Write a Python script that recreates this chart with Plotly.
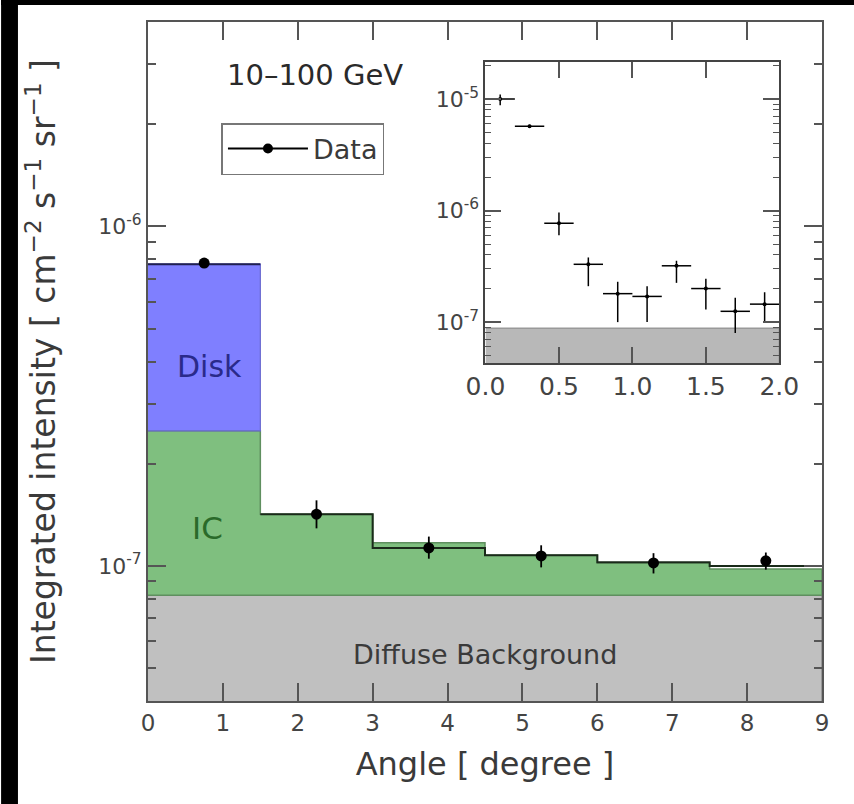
import numpy as np
import plotly.graph_objects as go

# ---------------- data ----------------
bin_edges = [0, 1.5, 3, 4.5, 6, 7.5, 9]
background = 8.2e-8
ic_top = [2.5e-7, 1.42e-7, 1.17e-7, 1.075e-7, 1.02e-7, 0.98e-7]
total_model = [7.74e-7, 1.42e-7, 1.13e-7, 1.075e-7, 1.025e-7, 1.0e-7]

data_x = [0.75, 2.25, 3.75, 5.25, 6.75, 8.25]
data_y = [7.8e-7, 1.42e-7, 1.13e-7, 1.07e-7, 1.02e-7, 1.035e-7]
data_up = [0.25e-7, 0.14e-7, 0.09e-7, 0.08e-7, 0.07e-7, 0.06e-7]
data_dn = [0.25e-7, 0.13e-7, 0.08e-7, 0.08e-7, 0.07e-7, 0.06e-7]

inset_x = [0.1, 0.3, 0.5, 0.7, 0.9, 1.1, 1.3, 1.5, 1.7, 1.9]
inset_xerr = [0.1] * 10
inset_y = [1.0e-5, 5.7e-6, 7.7e-7, 3.3e-7, 1.8e-7, 1.7e-7, 3.2e-7, 2.0e-7, 1.25e-7, 1.45e-7]
inset_up = [1.0e-6, 2e-7, 1.9e-7, 0.5e-7, 0.5e-7, 0.4e-7, 0.35e-7, 0.45e-7, 0.4e-7, 0.4e-7]
inset_dn = [1.2e-6, 2e-7, 1.7e-7, 1.2e-7, 0.8e-7, 0.7e-7, 0.95e-7, 0.7e-7, 0.45e-7, 0.45e-7]
inset_background = 8.8e-8

main_xticks = list(range(0, 10))
main_yrange = [4e-8, 4e-6]
inset_yrange = [4.3e-8, 2.15e-5]
inset_xticks = [0.0, 0.5, 1.0, 1.5, 2.0]
inset_xticklabels = ["0.0", "0.5", "1.0", "1.5", "2.0"]

# ---------------- helpers ----------------
def step(edges, vals):
    xs, ys = [], []
    for i, v in enumerate(vals):
        xs += [edges[i], edges[i + 1]]
        ys += [v, v]
    return xs, ys

FONT = "DejaVu Sans"
TXT = "#3a3a3a"
AX = "#555555"

fig = go.Figure()

ylow = main_yrange[0] / 10
# background fill
fig.add_trace(go.Scatter(
    x=[bin_edges[0], bin_edges[-1], bin_edges[-1], bin_edges[0]],
    y=[background, background, ylow, ylow],
    fill="toself", fillcolor="#c0c0c0", mode="lines",
    line=dict(color="#8a8a8a", width=1.5), showlegend=False, hoverinfo="skip"))

# IC fill
sx, sy = step(bin_edges, ic_top)
fig.add_trace(go.Scatter(
    x=sx + [bin_edges[-1], bin_edges[0]],
    y=sy + [background, background],
    fill="toself", fillcolor="#7fbf7f", mode="lines",
    line=dict(color="#5f8f5f", width=1.5), showlegend=False, hoverinfo="skip"))

# Disk fill (first bin)
fig.add_trace(go.Scatter(
    x=[bin_edges[0], bin_edges[1], bin_edges[1], bin_edges[0]],
    y=[ic_top[0], ic_top[0], total_model[0], total_model[0]],
    fill="toself", fillcolor="#7f7fff", mode="lines",
    line=dict(color="#6a6ad0", width=1.2), showlegend=False, hoverinfo="skip"))

# total model line
tx, ty = step(bin_edges[1:], total_model[1:])
fig.add_trace(go.Scatter(x=tx, y=ty, mode="lines",
                         line=dict(color="#1a2a1a", width=2),
                         showlegend=False, hoverinfo="skip"))
fig.add_trace(go.Scatter(x=[bin_edges[0], bin_edges[1]], y=[total_model[0]] * 2,
                         mode="lines", line=dict(color="#202050", width=2),
                         showlegend=False, hoverinfo="skip"))

# data points
fig.add_trace(go.Scatter(
    x=data_x, y=data_y, mode="markers",
    marker=dict(color="black", size=11),
    error_y=dict(type="data", array=data_up, arrayminus=data_dn,
                 color="black", thickness=1.8, width=0),
    showlegend=False))

# legend entry
fig.add_trace(go.Scatter(
    x=[None], y=[None], mode="lines+markers", name="Data",
    marker=dict(color="black", size=10), line=dict(color="black", width=2)))

# inset
fig.add_trace(go.Scatter(
    x=[0, 2, 2, 0], y=[inset_background, inset_background, 1e-9, 1e-9],
    xaxis="x2", yaxis="y2", fill="toself", fillcolor="#b8b8b8",
    mode="lines", line=dict(color="#999999", width=1.5),
    showlegend=False, hoverinfo="skip"))
fig.add_trace(go.Scatter(
    x=inset_x, y=inset_y, xaxis="x2", yaxis="y2", mode="markers",
    marker=dict(color="black", size=4),
    error_x=dict(type="data", array=inset_xerr, color="black", thickness=1.5, width=0),
    error_y=dict(type="data", array=inset_up, arrayminus=inset_dn,
                 color="black", thickness=1.5, width=0),
    showlegend=False))

main_minor = [k * 10 ** e for e in (-8, -7, -6) for k in range(2, 10)]
main_minor = [v for v in main_minor if main_yrange[0] <= v <= main_yrange[1]]
inset_minor = [k * 10 ** e for e in (-8, -7, -6, -5) for k in range(2, 10)]
inset_minor = [v for v in inset_minor if inset_yrange[0] <= v <= inset_yrange[1]]

W, H = 854, 804
PL, PR, PT, PB = 148, 27, 22, 103
PW = W - PL - PR
PH = H - PT - PB

fig.update_layout(
    width=W, height=H, autosize=False,
    margin=dict(l=PL, r=PR, t=PT, b=PB),
    paper_bgcolor="white", plot_bgcolor="white",
    font=dict(family=FONT, color=TXT),
    xaxis=dict(range=[0, 9], tickvals=main_xticks, ticks="inside", ticklen=18,
               tickwidth=1.5, tickcolor=AX, showline=True, linecolor=AX,
               linewidth=2, mirror="ticks", showgrid=False, zeroline=False,
               tickfont=dict(size=23, color="#444"),
               title=dict(text="Angle [ degree ]", font=dict(size=32, color=TXT),
                          standoff=18)),
    yaxis=dict(type="log", range=[np.log10(main_yrange[0]), np.log10(main_yrange[1])],
               tickvals=[1e-7, 1e-6],
               ticktext=["10<sup>-7</sup>", "10<sup>-6</sup>"],
               ticks="inside", ticklen=18, tickwidth=1.5, tickcolor=AX,
               minor=dict(tickvals=main_minor, ticks="inside", ticklen=8,
                          tickcolor=AX, tickwidth=1.5, showgrid=False),
               showline=True, linecolor=AX, linewidth=2, mirror="ticks",
               showgrid=False, zeroline=False,
               tickfont=dict(size=22, color="#444"),
               title=dict(text="Integrated intensity [ cm<sup>−2</sup> s<sup>−1</sup> sr<sup>−1</sup> ]",
                          font=dict(size=33, color=TXT), standoff=33)),
    xaxis2=dict(domain=[(488 - PL) / PW, (784 - PL) / PW], anchor="y2", range=[0, 2],
                tickvals=inset_xticks, ticktext=inset_xticklabels,
                ticks="inside", ticklen=16, tickwidth=1.5, tickcolor=AX,
                showline=True, linecolor="#444", linewidth=2, mirror="ticks",
                showgrid=False, zeroline=False,
                tickfont=dict(size=25, color="#444")),
    yaxis2=dict(domain=[(H - PB - 363) / PH, (H - PB - 62) / PH], anchor="x2", type="log",
                range=[np.log10(inset_yrange[0]), np.log10(inset_yrange[1])],
                tickvals=[1e-7, 1e-6, 1e-5],
                ticktext=["10<sup>-7</sup>", "10<sup>-6</sup>", "10<sup>-5</sup>"],
                ticks="inside", ticklen=16, tickwidth=1.5, tickcolor=AX,
                minor=dict(tickvals=inset_minor, ticks="inside", ticklen=6,
                           tickcolor=AX, tickwidth=1.2, showgrid=False),
                showline=True, linecolor="#444", linewidth=2, mirror="ticks",
                showgrid=False, zeroline=False,
                tickfont=dict(size=22, color="#444")),
    legend=dict(x=(222 - PL) / PW, y=(H - PB - 123) / PH, xanchor="left", yanchor="top",
                bgcolor="white", bordercolor="#777", borderwidth=1.5,
                font=dict(size=27, color=TXT), itemwidth=80),
    showlegend=True,
)

annots = [
    dict(x=0.82, y=np.log10(3.86e-7), text="Disk", font=dict(size=30, color="#2a2a8a")),
    dict(x=0.8, y=np.log10(1.29e-7), text="IC", font=dict(size=31, color="#2a6a2a")),
    dict(x=4.5, y=np.log10(5.48e-8), text="Diffuse Background", font=dict(size=27, color="#3a3a3a")),
    dict(x=2.23, y=np.log10(2.79e-6), text="10–100 GeV", font=dict(size=29, color="#2a2a2a")),
]
for a in annots:
    fig.add_annotation(xref="x", yref="y", showarrow=False, **a)

# black framing strips of the original picture
fig.add_shape(type="rect", xref="paper", yref="paper",
              x0=-PL / PW, x1=(17 - PL) / PW, y0=-PB / PH, y1=(H - PB) / PH,
              fillcolor="black", line=dict(width=0), layer="above")
fig.add_shape(type="rect", xref="paper", yref="paper",
              x0=-PL / PW, x1=(W - PL + 10) / PW, y0=(H - PB - 5) / PH, y1=(H - PB) / PH,
              fillcolor="black", line=dict(width=0), layer="above")

fig.write_html(
    "out.html",
    config={"displayModeBar": False, "responsive": False},
    post_script=("document.documentElement.style.overflow='hidden';"
                 "document.body.style.overflow='hidden';"
                 "document.body.style.margin='0';"),
)
